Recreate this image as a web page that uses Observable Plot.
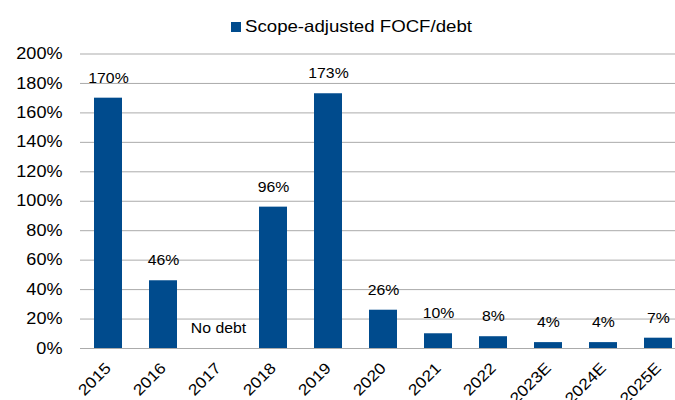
<!DOCTYPE html>
<html><head><meta charset="utf-8">
<script src="https://cdn.jsdelivr.net/npm/d3@7"></script>
<script src="https://cdn.jsdelivr.net/npm/@observablehq/plot@0.6"></script>
<style>
body{margin:0;background:#fff;font-family:"Liberation Sans",Arial,sans-serif;}
#wrap{position:relative;width:675px;height:400px;overflow:hidden;}
#sw{position:absolute;left:231px;top:22px;width:10px;height:10px;background:#004b8d;}
#legend{position:absolute;left:245px;top:18px;font-size:16.5px;line-height:16.5px;color:#000;white-space:nowrap;transform:scaleX(1.13);transform-origin:0 0;}
</style></head>
<body><div id="wrap"><div id="sw"></div><div id="legend"></div></div>
<script>
const years = ["2015","2016","2017","2018","2019","2020","2021","2022","2023E","2024E","2025E"];
const focfDebt = [170,46,null,96,173,26,10,8,4,4,7];
const valueLabels = ["170%","46%","No debt","96%","173%","26%","10%","8%","4%","4%","7%"];
const yTicks = [0,20,40,60,80,100,120,140,160,180,200];
const seriesName = "Scope-adjusted FOCF/debt";

const data = years.map((y,i)=>({year:y, v:focfDebt[i], label:valueLabels[i], ly: focfDebt[i] ?? 0}));

document.getElementById("legend").textContent = seriesName;

const chart = Plot.plot({
  width: 675, height: 400,
  marginLeft: 80, marginRight: 0, marginTop: 53, marginBottom: 52,
  style: {fontFamily: '"Liberation Sans", Arial, sans-serif', fontSize: "15px", color:"#000", background:"transparent", overflow:"visible"},
  x: {domain: years, range: [80, 687], paddingInner: 0.49, paddingOuter: 0.245, label: null},
  y: {domain: [0,200], range: [348, 53.5], label: null},
  marks: [
    Plot.ruleY(yTicks, {stroke:"#ababab", strokeWidth:1}),
    Plot.axisY({ticks: yTicks, tickSize: 0, tickPadding: 18, tickFormat: d=>d+"%", fontSize: 16}),
    Plot.axisX({tickSize: 0, tickRotate: -45, tickPadding: 15, dy: 2, fontSize: 15.5}),
    Plot.barY(data.filter(d=>d.v!=null), {x:"year", y:"v", fill:"#004b8d"}),
    Plot.text(data, {x:"year", y:"ly", text:"label", dy:-20, fontSize:14, fill:"#000"})
  ]
});
// the reference's lettering is slightly widened horizontally
d3.select(chart).selectAll("text").each(function(){
  const t = this.getAttribute("transform") || "";
  this.setAttribute("transform", (t + " scale(1.13,1)").trim());
});
document.getElementById("wrap").appendChild(chart);
</script></body></html>
